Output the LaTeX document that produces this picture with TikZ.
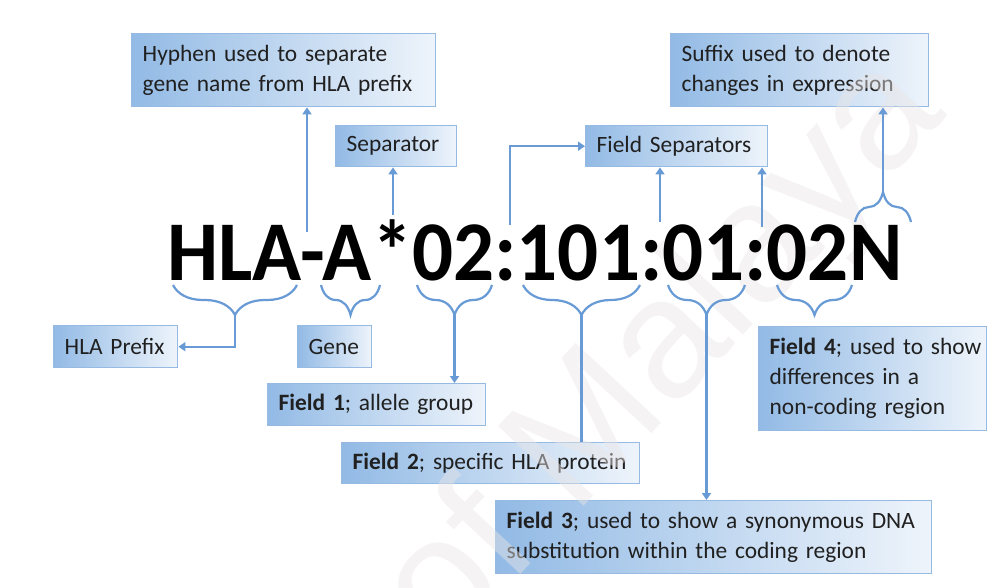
\documentclass[tikz,border=0pt]{standalone}
\usepackage{fontspec}
\setmainfont{Carlito}
\newfontfamily\wmfont{Liberation Sans}
\usetikzlibrary{arrows.meta,decorations.pathreplacing,calc}

\definecolor{boxL}{RGB}{146,186,229}
\definecolor{boxR}{RGB}{238,244,251}
\definecolor{boxEdge}{RGB}{150,186,226}
\definecolor{link}{RGB}{104,155,213}
\definecolor{txt}{RGB}{32,32,32}
\definecolor{wm}{RGB}{234,230,230}

% one unbreakable line of a label
\newcommand{\lbline}[1]{\mbox{#1}}

\tikzset{
  infobox/.style={draw=boxEdge, line width=1.4pt, left color=boxL, right color=boxR,
    inner xsep=11pt, inner ysep=0pt, align=left, anchor=north west, text=txt,
    font=\fontsize{23.4}{30}\selectfont},
  link/.style={draw=link, line width=2.2pt},
  arr/.style={link, -{Triangle[width=9pt,length=7pt]}},
  bracedown/.style={link, decorate, decoration={brace, mirror, amplitude=30pt}},
  braceup/.style={link, decorate, decoration={brace, amplitude=30pt}},
}

\begin{document}
\begin{tikzpicture}[x=1pt, y=-1pt]
\useasboundingbox (0,0) rectangle (992,587);
\fill[white] (0,0) rectangle (992,587);

% label boxes
\node[infobox, minimum height=73pt, text width=282pt] (hyphen) at (131,33)
  {\lbline{Hyphen used to separate}\\\lbline{gene name from HLA prefix}};
\node[infobox, minimum height=41pt, text width=99pt] (sep) at (335,125) {\lbline{Separator}};
\node[infobox, minimum height=41pt, text width=160pt] (fsep) at (585,125) {\lbline{Field Separators}};
\node[infobox, minimum height=73pt, text width=236pt] (suffix) at (670,33)
  {\lbline{Suffix used to denote}\\\lbline{changes in expression}};
\node[infobox, minimum height=42pt, text width=102pt] (prefix) at (53,325) {\lbline{HLA Prefix}};
\node[infobox, minimum height=42pt, text width=52pt] (gene) at (297,325) {\lbline{Gene}};
\node[infobox, minimum height=42pt, text width=196pt] (f1) at (267,383)
  {\lbline{\textbf{Field 1}; allele group}};
\node[infobox, minimum height=41pt, text width=276pt] (f2) at (341,442)
  {\lbline{\textbf{Field 2}; specific HLA protein}};
\node[infobox, minimum height=73pt, text width=414pt] (f3) at (495,500)
  {\lbline{\textbf{Field 3}; used to show a synonymous DNA}\\\lbline{substitution within the coding region}};
\node[infobox, minimum height=104pt, text width=206pt] (f4) at (758,326)
  {\lbline{\textbf{Field 4}; used to show}\\\lbline{differences in a}\\\lbline{non-coding region}};

% watermark
\node[rotate=47, text=wm, opacity=0.45, font=\wmfont\fontsize{170}{170}\selectfont]
  (mark) at (665,355) {of Malaya};

% the allele name
\node[anchor=base west, inner sep=0pt, text=black,
  font=\fontsize{81}{81}\selectfont\bfseries] (allele) at (167,280)
  {\scalebox{1}[1.05]{HLA-A*02:101:01:02N}};

% points on the name where upward pointers start
\coordinate (hy) at (307,232);
\coordinate (st) at (393,215);
\coordinate (c1) at (510,225);
\coordinate (c2) at (660,222);
\coordinate (c3) at (762,227);

% braces under the name and their tips
\draw[bracedown] (173,285) -- (297,285);
\draw[bracedown] (321,285) -- (380,285);
\draw[bracedown] (417,285) -- (492,285);
\draw[bracedown] (523,285) -- (640,285);
\draw[bracedown] (668,285) -- (745,285);
\draw[bracedown] (777,285) -- (852,285);
\coordinate (bHLA) at (235,314);
\coordinate (bF1) at (454.5,314);
\coordinate (bF2) at (581.5,314);
\coordinate (bF3) at (706.5,314);

% brace over the suffix
\draw[braceup] (855,222) -- (911,222);
\coordinate (bN) at (883,193);

% pointers
\draw[arr] (hy) -- (hy |- hyphen.south);
\draw[arr] (st) -- (st |- sep.south);
\draw[arr] (c1) |- (fsep.west);
\draw[arr] (c2) -- (c2 |- fsep.south);
\draw[arr] (c3) -- (c3 |- fsep.south);
\draw[arr] (bN) -- (bN |- suffix.south);
\draw[arr] (bHLA) |- (prefix.east);
\draw[arr] (bF1) -- (bF1 |- f1.north);
\draw[link] (bF2) -- (bF2 |- f2.north);
\draw[arr] (bF3) -- (bF3 |- f3.north);
\end{tikzpicture}
\end{document}
